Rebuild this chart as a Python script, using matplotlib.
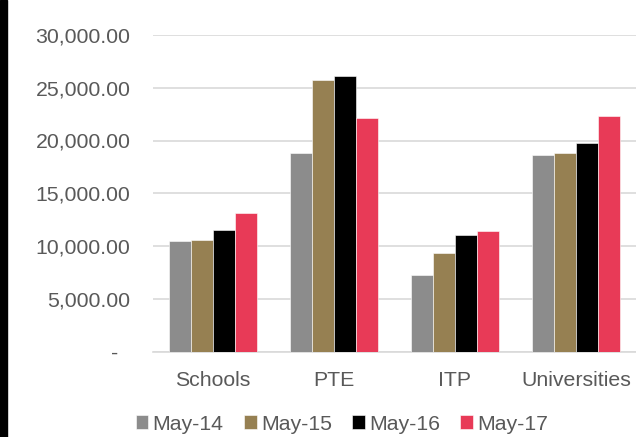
import matplotlib
matplotlib.use("Agg")
import matplotlib.pyplot as plt
import numpy as np
from matplotlib.patches import Rectangle
from matplotlib.ticker import FuncFormatter

categories = ["Schools", "PTE", "ITP", "Universities"]
series_names = ["May-14", "May-15", "May-16", "May-17"]
may14 = [10480, 18790, 7260, 18660]
may15 = [10580, 25730, 9380, 18850]
may16 = [11520, 26110, 11080, 19770]
may17 = [13140, 22130, 11430, 22320]
colors = ["#8c8c8c", "#968052", "#000000", "#e83a57"]

plt.rcParams["font.family"] = ["Liberation Sans", "DejaVu Sans"]

fig = plt.figure(figsize=(6.36, 4.37), dpi=100)
ax = fig.add_axes([152.5 / 636, (437 - 351.7) / 437, 484 / 636, (351.7 - 34.9) / 437])

x = np.arange(len(categories))
w = 0.182
data = [may14, may15, may16, may17]
for i, (vals, name, c) in enumerate(zip(data, series_names, colors)):
    ax.bar(x + (i - 1.5) * w, vals, width=w, color=c, label=name,
           edgecolor="white", linewidth=0.4, zorder=3)

ax.set_xlim(-0.5, 3.5)
ax.set_ylim(0, 30000)
ax.set_yticks(np.arange(0, 30001, 5000))

def fmt(v, pos):
    if v == 0:
        return "-  "
    return f"{v:,.2f}"

ax.yaxis.set_major_formatter(FuncFormatter(fmt))
ax.set_xticks(x)
ax.set_xticklabels(categories)
ax.tick_params(axis="both", length=0, labelsize=15.3, labelcolor="#595959")
ax.tick_params(axis="y", pad=16)
ax.tick_params(axis="x", pad=14)
ax.grid(axis="y", color="#d9d9d9", linewidth=1.2, zorder=0)
for s in ["top", "right", "left"]:
    ax.spines[s].set_visible(False)
ax.spines["bottom"].set_color("#d9d9d9")
ax.spines["bottom"].set_linewidth(1.2)

leg = fig.legend(loc="center", bbox_to_anchor=(342 / 636, (437 - 424) / 437), ncol=4,
                 frameon=False, fontsize=15.3, handlelength=0.6, handleheight=0.6,
                 handletextpad=0.2, columnspacing=0.95, labelcolor="#595959")

fig.patches.append(Rectangle((0, 0), 7 / 636, 1, transform=fig.transFigure,
                             color="black", zorder=10))

fig.savefig("out.png", dpi=100)
